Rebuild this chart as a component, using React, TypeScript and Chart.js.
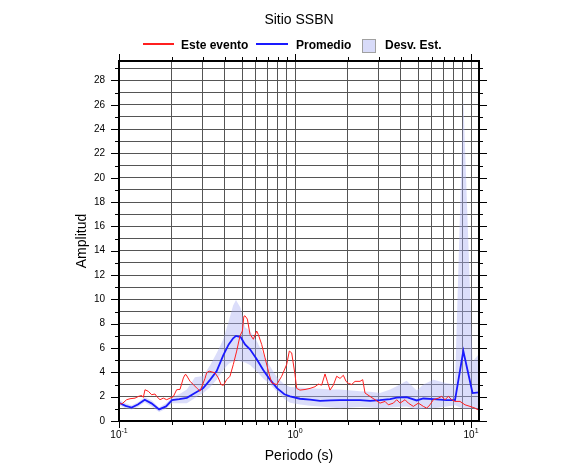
import React, { useEffect, useRef } from 'react';
import { Chart, registerables } from 'chart.js';

Chart.register(...registerables);

const chartTitle = 'Sitio SSBN';
const xAxisTitle = 'Periodo (s)';
const yAxisTitle = 'Amplitud';
const legendLabels = ['Este evento', 'Promedio', 'Desv. Est.'];

// Mean (Promedio) and standard deviation band, sampled on the period axis
const meanPeriods = [
  0.1, 0.109, 0.118, 0.128, 0.14, 0.153, 0.169, 0.185, 0.2, 0.22, 0.243, 0.27, 0.301, 0.33, 0.359,
  0.391, 0.42, 0.445, 0.462, 0.491, 0.52, 0.555, 0.605, 0.66, 0.721, 0.79, 0.87, 0.937, 1.067, 1.216,
  1.387, 1.6, 1.8, 2.34, 2.67, 3.04, 3.47, 3.78, 4.31, 4.91, 5.36, 6.11, 7.28, 8.11, 9.04, 10.2, 11.1,
];
const meanAmplitude = [
  1.5, 1.25, 1.11, 1.35, 1.75, 1.45, 0.95, 1.2, 1.72, 1.8, 1.9, 2.3, 2.7, 3.4, 4.1,
  5.4, 6.3, 6.8, 7.0, 6.9, 6.3, 5.9, 5.1, 4.2, 3.4, 2.7, 2.2, 2.02, 1.83, 1.75,
  1.66, 1.7, 1.72, 1.72, 1.66, 1.72, 1.8, 1.93, 1.97, 1.69, 1.85, 1.8, 1.72, 1.72, 5.75, 2.3, 2.35,
];
const stdUpper = [
  1.75, 1.45, 1.3, 1.55, 1.95, 1.7, 1.1, 1.45, 1.95, 2.2, 2.6, 3.6, 3.7, 4.6, 5.6,
  6.7, 8.2, 9.5, 9.95, 9.3, 7.7, 7.4, 6.6, 5.5, 4.5, 3.6, 3.0, 2.8, 2.75, 2.7,
  2.65, 2.6, 2.58, 2.45, 2.4, 2.3, 2.6, 2.85, 3.3, 2.5, 3.0, 3.4, 3.1, 3.0, 26.5, 4.9, 5.5,
];
const stdLower = [
  1.3, 1.05, 0.95, 1.15, 1.55, 1.2, 0.75, 1.0, 1.45, 1.45, 1.45, 1.9, 2.3, 2.8, 3.4,
  4.2, 4.7, 4.9, 5.0, 4.9, 4.8, 4.6, 4.1, 3.5, 3.0, 2.4, 1.8, 1.5, 1.35, 1.25,
  1.2, 1.1, 1.05, 1.15, 1.1, 1.05, 1.1, 1.15, 1.2, 0.95, 1.0, 1.05, 1.2, 1.3, 1.0, 1.0, 0.9,
];

// Este evento
const eventPeriods = [
  0.1, 0.1036, 0.1105, 0.1155, 0.1233, 0.1288, 0.1345, 0.1375, 0.1405, 0.1468, 0.1533, 0.1601, 0.1637,
  0.171, 0.1786, 0.1866, 0.1949, 0.2035, 0.2126, 0.2222, 0.2321, 0.237, 0.2403, 0.2532, 0.2645, 0.2787,
  0.2886, 0.3081, 0.3148, 0.325, 0.3512, 0.3667, 0.38, 0.3915, 0.409, 0.4272, 0.4462, 0.4662, 0.487,
  0.5022, 0.512, 0.52, 0.5361, 0.5551, 0.5798, 0.6056, 0.619, 0.6465, 0.6754, 0.7055, 0.7369, 0.7868,
  0.84, 0.8968, 0.9285, 0.9573, 1.0, 1.022, 1.067, 1.14, 1.217, 1.299, 1.357, 1.417, 1.481, 1.526,
  1.581, 1.651, 1.725, 1.802, 1.882, 1.949, 2.009, 2.099, 2.193, 2.341, 2.424, 2.499, 2.668, 2.848,
  3.041, 3.247, 3.391, 3.621, 3.782, 3.951, 4.217, 4.405, 4.703, 5.022, 5.361, 5.601, 5.848, 6.109,
  6.523, 6.813, 7.116, 7.433, 7.767, 8.111, 8.66, 9.246, 9.87, 10.54, 11.01, 11.1,
];
const eventAmplitude = [
  1.5, 1.39, 1.75, 1.83, 1.88, 2.02, 2.1, 1.94, 2.57, 2.44, 2.16, 2.22, 2.02,
  1.75, 1.88, 1.75, 1.88, 2.0, 2.57, 2.6, 3.54, 3.8, 3.82, 3.27, 2.99, 2.66,
  2.45, 3.5, 3.96, 4.1, 3.96, 3.54, 3.0, 2.93, 3.4, 3.68, 4.65, 5.75, 7.0,
  7.4, 8.6, 8.65, 8.38, 7.13, 6.72, 7.4, 7.1, 6.3, 5.2, 4.1, 3.13, 2.99,
  3.68, 4.65, 5.75, 5.6, 3.82, 2.68, 2.54, 2.59, 2.68, 2.82, 3.03, 2.95, 3.87, 3.26,
  2.54, 2.95, 3.68, 3.5, 3.76, 3.26, 3.1, 3.0, 3.26, 3.26, 3.4, 2.3, 2.02, 1.75,
  1.47, 1.61, 1.33, 1.47, 1.75, 1.47, 1.75, 1.47, 1.2, 1.47, 1.2, 1.06, 1.33, 1.75,
  1.88, 2.02, 1.75, 2.02, 1.75, 1.61, 1.61, 1.33, 1.2, 1.06, 0.9, 0.95,
];

const xTickValues = [0.1, 1, 10];
const xTickBase = '10';
const xTickExponents = ['-1', '0', '1'];
const xMin = 0.1;
const xMax = 11.1;
const yMin = 0;
const yMax = 29.6;
const yLabelMax = 28;

const FONT = "'Liberation Sans', Arial, Helvetica, sans-serif";

const xGridValues: number[] = [];
[0.1, 1].forEach((d) => {
  for (let k = 1; k <= 9; k++) xGridValues.push(Number((k * d).toFixed(2)));
});
xGridValues.push(10);

const decorPlugin = {
  id: 'decor',
  afterDatasetsDraw(chart: any) {
    const { ctx, chartArea: a, scales } = chart;
    const xs = scales.x;
    const ys = scales.y;
    ctx.save();
    ctx.strokeStyle = '#000';
    ctx.lineWidth = 1;
    ctx.beginPath();
    for (let v = 0; v <= Math.floor(yMax); v++) {
      const y = Math.round(ys.getPixelForValue(v)) + 0.5;
      const len = v % 2 === 0 ? 8 : 4;
      ctx.moveTo(a.left - len, y);
      ctx.lineTo(a.left, y);
      ctx.moveTo(a.right, y);
      ctx.lineTo(a.right + len, y);
    }
    xGridValues.forEach((v) => {
      const x = Math.round(xs.getPixelForValue(v)) + 0.5;
      const major = xTickValues.includes(v);
      const len = major ? 7 : 4;
      ctx.moveTo(x, a.bottom);
      ctx.lineTo(x, a.bottom + len);
      ctx.moveTo(x, a.top - len);
      ctx.lineTo(x, a.top);
    });
    ctx.stroke();
    ctx.lineWidth = 2;
    ctx.strokeRect(a.left, a.top, a.right - a.left, a.bottom - a.top);

    // x tick labels with exponents
    ctx.fillStyle = '#000';
    ctx.textBaseline = 'alphabetic';
    ctx.textAlign = 'left';
    xTickValues.forEach((v, i) => {
      const x = xs.getPixelForValue(v);
      ctx.font = `10px ${FONT}`;
      const wb = ctx.measureText(xTickBase).width;
      ctx.font = `7px ${FONT}`;
      const we = ctx.measureText(xTickExponents[i]).width;
      const x0 = x - (wb + we) / 2;
      ctx.font = `10px ${FONT}`;
      ctx.fillText(xTickBase, x0, 438);
      ctx.font = `7px ${FONT}`;
      ctx.fillText(xTickExponents[i], x0 + wb, 433);
    });
    ctx.restore();
  },
  afterDraw(chart: any) {
    const { ctx } = chart;
    ctx.save();
    ctx.fillStyle = '#000';
    ctx.textBaseline = 'alphabetic';
    ctx.textAlign = 'center';
    ctx.font = `14px ${FONT}`;
    ctx.fillText(chartTitle, 299, 24);

    ctx.textAlign = 'left';
    ctx.font = `bold 12px ${FONT}`;
    ctx.lineWidth = 2;
    ctx.strokeStyle = '#ff1f1f';
    ctx.beginPath();
    ctx.moveTo(143, 44);
    ctx.lineTo(174, 44);
    ctx.stroke();
    ctx.fillText(legendLabels[0], 181, 48.5);
    ctx.strokeStyle = '#1a1aff';
    ctx.beginPath();
    ctx.moveTo(256, 44);
    ctx.lineTo(288, 44);
    ctx.stroke();
    ctx.fillText(legendLabels[1], 296, 48.5);
    ctx.fillStyle = 'rgb(216,219,249)';
    ctx.fillRect(362, 39, 13, 13);
    ctx.lineWidth = 1;
    ctx.strokeStyle = '#a0a0a0';
    ctx.strokeRect(362.5, 39.5, 13, 13);
    ctx.fillStyle = '#000';
    ctx.fillText(legendLabels[2], 385, 48.5);
    ctx.restore();
  },
};

export default function App() {
  const canvasRef = useRef<HTMLCanvasElement | null>(null);

  useEffect(() => {
    const canvas = canvasRef.current;
    if (!canvas) return;
    const chart = new Chart(canvas, {
      type: 'line',
      data: {
        datasets: [
          {
            label: legendLabels[0],
            data: eventPeriods.map((x, i) => ({ x, y: eventAmplitude[i] })),
            borderColor: '#ff1f1f',
            borderWidth: 1,
            pointRadius: 0,
            fill: false,
            tension: 0,
            order: 0,
          },
          {
            label: legendLabels[1],
            data: meanPeriods.map((x, i) => ({ x, y: meanAmplitude[i] })),
            borderColor: '#1a1aff',
            borderWidth: 1.8,
            pointRadius: 0,
            fill: false,
            tension: 0,
            order: 1,
          },
          {
            label: legendLabels[2],
            data: meanPeriods.map((x, i) => ({ x, y: stdUpper[i] })),
            borderColor: 'rgba(0,0,0,0)',
            borderWidth: 0,
            backgroundColor: 'rgba(170,175,242,0.42)',
            pointRadius: 0,
            fill: '+1',
            tension: 0,
            order: 2,
          },
          {
            label: 'lower',
            data: meanPeriods.map((x, i) => ({ x, y: stdLower[i] })),
            borderColor: 'rgba(0,0,0,0)',
            borderWidth: 0,
            pointRadius: 0,
            fill: false,
            tension: 0,
            order: 3,
          },
        ],
      },
      options: {
        animation: false,
        responsive: false,
        maintainAspectRatio: false,
        layout: { padding: { left: 70, right: 107, top: 61, bottom: 0 } },
        plugins: {
          legend: { display: false },
          title: { display: false },
          tooltip: { enabled: false },
        },
        scales: {
          x: {
            type: 'logarithmic',
            min: xMin,
            max: xMax,
            afterBuildTicks: (scale: any) => {
              scale.ticks = xGridValues.map((v) => ({ value: v }));
            },
            afterFit: (scale: any) => {
              scale.height = 54;
            },
            grid: { color: '#555', lineWidth: 1, drawTicks: false },
            border: { display: false },
            ticks: { display: false, autoSkip: false },
            title: {
              display: true,
              text: xAxisTitle,
              color: '#000',
              font: { family: FONT, size: 14 },
              padding: { top: 4, bottom: 10 },
            },
          },
          y: {
            type: 'linear',
            min: yMin,
            max: yMax,
            afterBuildTicks: (scale: any) => {
              const t = [];
              for (let v = 0; v <= Math.floor(yMax); v++) t.push({ value: v });
              scale.ticks = t;
            },
            afterFit: (scale: any) => {
              scale.width = 49;
            },
            grid: { color: '#555', lineWidth: 1, drawTicks: false },
            border: { display: false },
            ticks: {
              autoSkip: false,
              padding: 14,
              color: '#000',
              font: { family: FONT, size: 10 },
              callback: (v: any) => (Number(v) % 2 === 0 && Number(v) <= yLabelMax ? String(v) : ''),
            },
            title: {
              display: true,
              text: yAxisTitle,
              color: '#000',
              font: { family: FONT, size: 14 },
              padding: { top: 4, bottom: 4 },
            },
          },
        },
      },
      plugins: [decorPlugin],
    });
    return () => chart.destroy();
  }, []);

  return (
    <div style={{ position: 'absolute', left: 0, top: 0, width: 586, height: 475, background: '#fff' }}>
      <canvas ref={canvasRef} width={586} height={475} style={{ display: 'block' }} />
    </div>
  );
}
